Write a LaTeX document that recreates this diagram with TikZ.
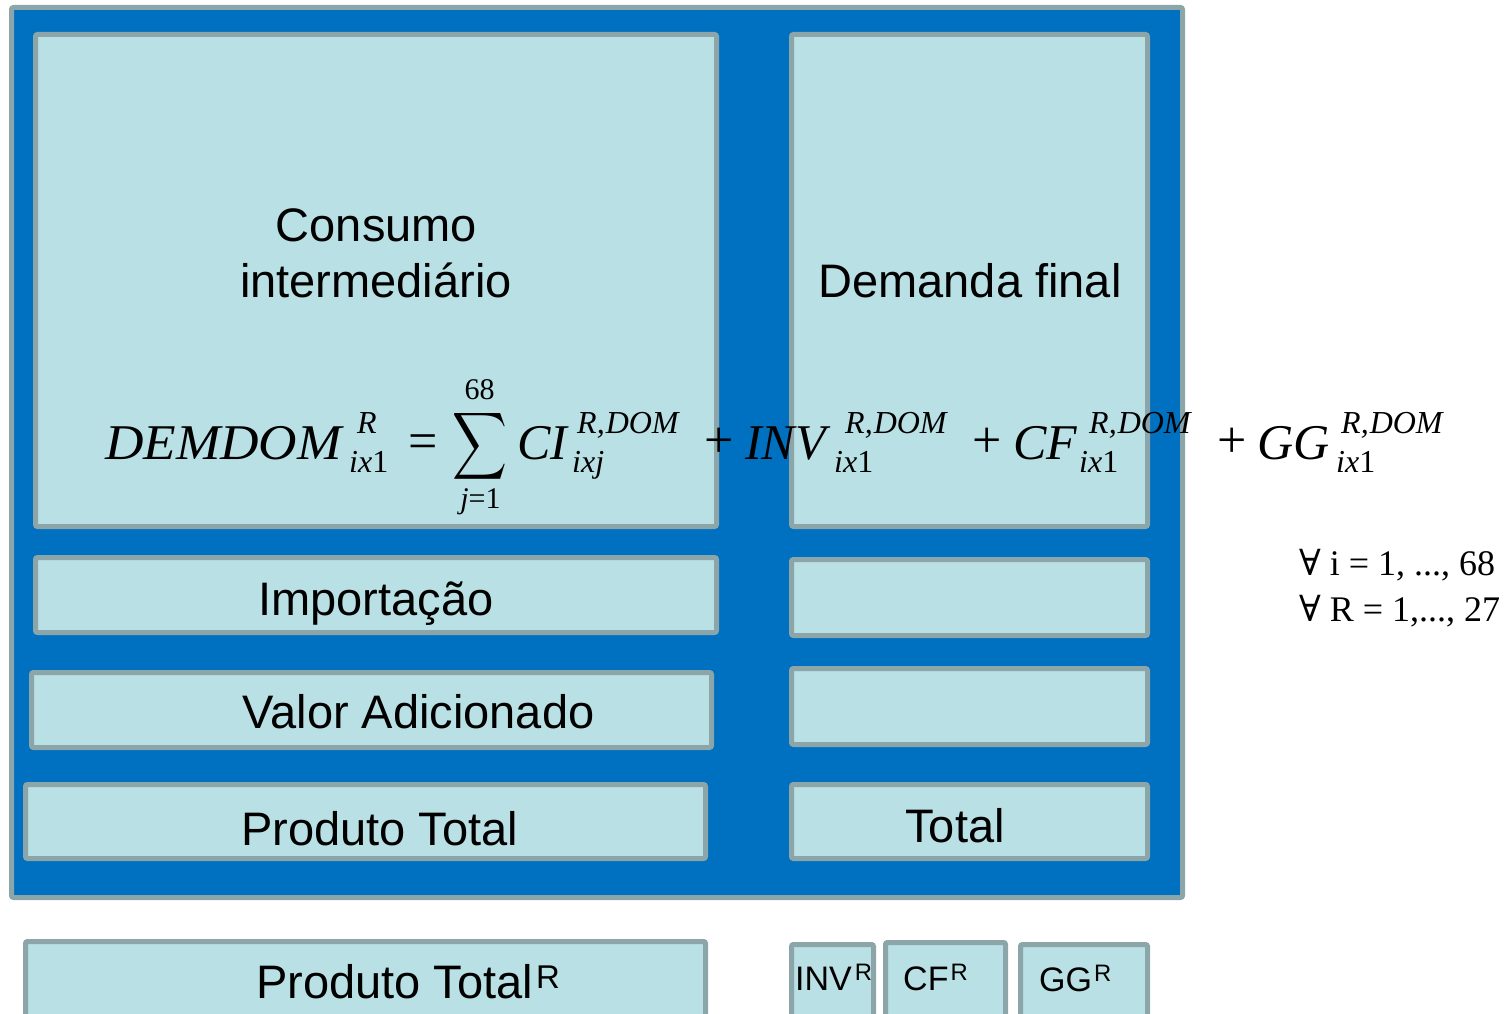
\documentclass[tikz,border=0pt]{standalone}
\usepackage{fontspec}
\usepackage{graphicx}
\setmainfont{Liberation Sans}
\newfontfamily\tms{Liberation Serif}
\newfontfamily\dvs{DejaVu Serif}
\definecolor{bblue}{HTML}{0070C0}
\definecolor{lblue}{HTML}{B9E0E4}
\definecolor{bgray}{HTML}{8BA5A8}
\newcommand\mybox[5]{\node[box, minimum width={#4-#2-5}, minimum height={#5-#3-5}] (#1) at ({(#2+#4)/2},{(#3+#5)/2}) {};}
\newcommand\ixone{ix\upshape 1}
\tikzset{
  box/.style={draw=bgray, fill=lblue, line width=5pt, rounded corners=2pt, inner sep=0pt},
  outerbox/.style={draw=bgray, fill=bblue, line width=5pt, rounded corners=2pt, inner sep=0pt},
  lbl/.style={anchor=base, inner sep=0pt, font=\fontsize{47}{56}\selectfont},
  slbl/.style={anchor=base west, inner sep=0pt, font=\fontsize{34}{40}\selectfont},
  eqit/.style={anchor=base west, inner sep=0pt, font=\tms\itshape\fontsize{50}{50}\selectfont},
  eqsc/.style={anchor=base west, inner sep=0pt, font=\tms\itshape\fontsize{32}{32}\selectfont},
  eqop/.style={anchor=center, inner sep=0pt, font=\tms\fontsize{52}{52}\selectfont},
  lim/.style={anchor=base, inner sep=0pt, font=\tms\fontsize{30}{30}\selectfont},
  cond/.style={anchor=base west, inner sep=0pt, font=\tms\fontsize{36}{40}\selectfont},
}
\begin{document}
\begin{tikzpicture}[x=1pt,y=-1pt]
\useasboundingbox (0,0) rectangle (1512,1014);
% outer frame
\node[outerbox, minimum width=1171, minimum height=890] (frame) at (597,452.5) {};
% boxes
\mybox{ci}{33}{32}{719}{529}
\mybox{df}{789}{32}{1150}{529}
\mybox{imp}{33}{555}{719}{635}
\mybox{rtwo}{789}{557}{1150}{638}
\mybox{va}{29}{670}{714}{750}
\mybox{rthree}{789}{666}{1150}{747}
\mybox{pt}{23}{782}{708}{861}
\mybox{tot}{789}{782}{1150}{861}
\mybox{ptR}{23}{939}{708}{1030}
\mybox{invR}{789}{942}{876}{1030}
\mybox{cfR}{883}{940}{1008}{1030}
\mybox{ggR}{1018}{942}{1150}{1030}
% labels
\node[lbl] (ciA) at (376.5,241) {Consumo};
\node[lbl] (ciB) at (376,297) {intermediário};
\node[lbl] (dfL) at (970,297) {Demanda final};
\node[lbl] (impL) at (376,615) {Importação};
\node[lbl] (vaL) at (418.5,728) {Valor Adicionado};
\node[lbl] (ptL) at (379.5,845) {Produto Total};
\node[lbl] (totL) at (955,842) {Total};
\node[lbl, anchor=base west] (ptRL) at (256,998) {Produto Total\kern3pt\textsuperscript{R}};
\node[slbl] (invRL) at (795,990) {INV\kern3pt\textsuperscript{R}};
\node[slbl] (cfRL) at (903,990) {CF\kern2pt\textsuperscript{R}};
\node[slbl] (ggRL) at (1039,991) {GG\kern2pt\textsuperscript{R}};
% equation
\node[eqit] (dem) at (105,459) {\scalebox{1.065}[1]{DEMDOM}};
\node[eqsc] (demS) at (357,433) {R};
\node[eqsc] (demI) at (349,472) {\ixone};
\node[eqop] (eq) at (423,447) {=};
\node[inner sep=0pt] (sum) at (479.5,446) {\scalebox{3.8}[4.7]{$\displaystyle\sum$}};
\node[lim] (sumT) at (479.5,399) {68};
\node[lim] (sumB) at (480.5,508) {\itshape j\upshape =1};
\node[eqit] (cieq) at (517,459) {CI};
\node[eqsc] (ciS) at (577,433) {R,\kern1pt DOM};
\node[eqsc] (ciI) at (572,472) {ixj};
\node[eqop] (pa) at (719,443) {+};
\node[eqit] (inv) at (745,459) {INV};
\node[eqsc] (invS) at (845,433) {R,\kern1pt DOM};
\node[eqsc] (invI) at (834,472) {\ixone};
\node[eqop] (pb) at (987,443) {+};
\node[eqit] (cf) at (1013,459) {CF};
\node[eqsc] (cfS) at (1089,433) {R,\kern1pt DOM};
\node[eqsc] (cfI) at (1079,472) {\ixone};
\node[eqop] (pc) at (1232,443) {+};
\node[eqit] (gg) at (1257,459) {GG};
\node[eqsc] (ggS) at (1341,433) {R,\kern1pt DOM};
\node[eqsc] (ggI) at (1336,472) {\ixone};
% conditions
\node[cond] (condA) at (1299,575) {{\dvs ∀} i = 1, ..., 68};
\node[cond] (condB) at (1299,621) {{\dvs ∀} R = 1,..., 27};
\end{tikzpicture}
\end{document}
